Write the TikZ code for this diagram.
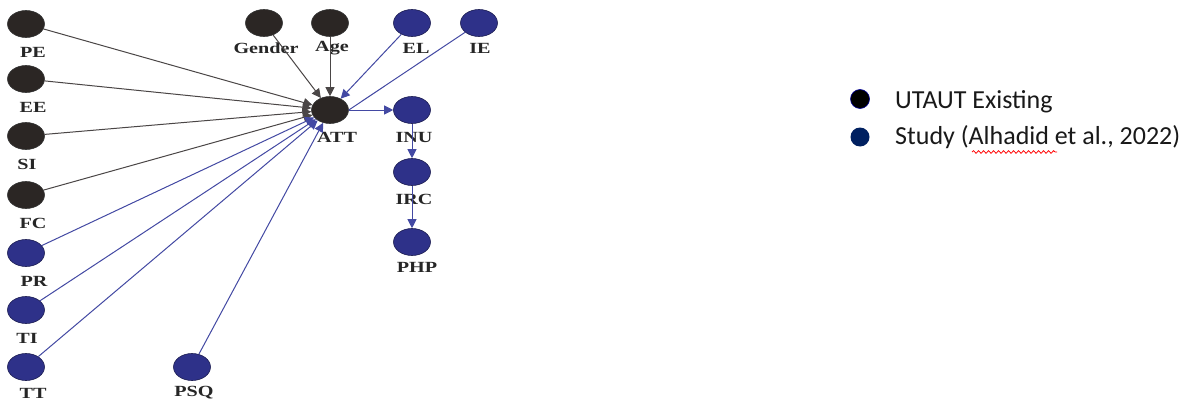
\documentclass[tikz,border=0pt]{standalone}
\usepackage{fontspec}
\setmainfont{Liberation Serif}
\newfontfamily\legendfont{Carlito}
\usetikzlibrary{shapes.geometric,arrows.meta,decorations.pathmorphing}
\definecolor{darknode}{HTML}{2B2624}
\definecolor{bluenode}{HTML}{2E3189}
\definecolor{blueline}{HTML}{4349A3}
\definecolor{greyline}{HTML}{4A4646}
\definecolor{navy}{HTML}{002060}
\tikzset{
  ell/.style={ellipse, minimum width=37pt, minimum height=27pt, inner sep=0pt},
  dk/.style={ell, fill=darknode, draw=black!80, line width=0.6pt},
  bl/.style={ell, fill=bluenode, draw=bluenode!60!black, line width=0.6pt},
  lbl/.style={inner sep=0pt, font=\fontsize{15.5}{18}\selectfont\bfseries, text=black!85, xscale=1.3},
  blk/.style={draw=greyline, line width=1pt, -{Triangle[length=9pt,width=9pt]}},
  blu/.style={draw=blueline, line width=1pt, -{Triangle[length=9pt,width=9pt]}},
  bluplain/.style={draw=blueline, line width=1pt},
  legtxt/.style={anchor=base west, inner sep=0pt, font=\legendfont\fontsize{26}{30}\selectfont, text=black!90}
}
\begin{document}
\begin{tikzpicture}[x=1pt,y=-1pt]
\useasboundingbox[fill=white] (0,0) rectangle (1196,404);
% nodes
\node[dk] (PE) at (26,24) {};
\node[dk] (EE) at (26,79) {};
\node[dk] (SI) at (26,136) {};
\node[dk] (FC) at (26,195) {};
\node[bl] (PR) at (26,253) {};
\node[bl] (TI) at (26,310) {};
\node[bl] (TT) at (26,367) {};
\node[bl] (PSQ) at (192,367) {};
\node[dk] (Gender) at (264,23) {};
\node[dk] (Age) at (330,23) {};
\node[bl] (EL) at (412,23) {};
\node[bl] (IE) at (479,23) {};
\node[dk] (ATT) at (330,110) {};
\node[bl] (INU) at (412,110) {};
\node[bl] (IRC) at (412,172) {};
\node[bl] (PHP) at (412,242) {};
% labels
\node[lbl] (PEl) at (33,52) {PE};
\node[lbl] (EEl) at (33,107) {EE};
\node[lbl] (SIl) at (27,164) {SI};
\node[lbl] (FCl) at (33,223) {FC};
\node[lbl] (PRl) at (34,281) {PR};
\node[lbl] (TIl) at (27,338) {TI};
\node[lbl] (TTl) at (33,393) {TT};
\node[lbl] (PSQl) at (194,393) {PSQ};
\node[lbl] (Genderl) at (266,48) {Gender};
\node[lbl] (Agel) at (332,48) {Age};
\node[lbl] (ELl) at (416,48) {EL};
\node[lbl] (IEl) at (480,48) {IE};
\node[lbl] (ATTl) at (337,137) {ATT};
\node[lbl] (INUl) at (414,137) {INU};
\node[lbl] (IRCl) at (414,199) {IRC};
\node[lbl] (PHPl) at (417,267) {PHP};
% edges
\draw[blk] (PE) -- (ATT);
\draw[blk] (EE) -- (ATT);
\draw[blk] (SI) -- (ATT);
\draw[blk] (FC) -- (ATT);
\draw[blk] (Gender) -- (ATT);
\draw[blk] (Age) -- (ATT);
\draw[blu] (PR) -- (ATT);
\draw[blu] (TI) -- (ATT);
\draw[blu] (TT) -- (ATT);
\draw[blu] (PSQ) -- (ATT);
\draw[blu] (EL) -- (ATT);
\draw[bluplain] (IE) -- (ATT.east);
\draw[blu] (ATT) -- (INU);
\draw[blu] (INU) -- (IRC);
\draw[blu] (IRC) -- (PHP);
% legend
\node[circle, minimum size=19pt, inner sep=0pt, fill=black, draw=blue!60!black, line width=0.6pt] (leg1) at (860,99) {};
\node[circle, minimum size=19pt, inner sep=0pt, fill=navy] (leg2) at (860,137) {};
\node[legtxt] (leg1t) at (895,108) {UTAUT Existing};
\node[legtxt] (leg2t) at (895,144) {Study (Alhadid et al., 2022)};
\coordinate (sqa) at (972,152);
\coordinate (sqb) at (1057,152);
\draw[red, line width=0.8pt, decorate, decoration={snake, amplitude=1.3pt, segment length=5pt}] (sqa) -- (sqb);
\end{tikzpicture}
\end{document}
